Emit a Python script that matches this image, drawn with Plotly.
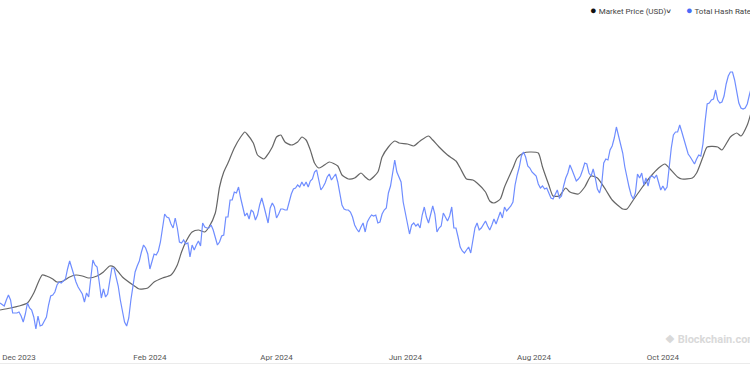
import pandas as pd
import plotly.graph_objects as go

START = pd.Timestamp("2023-11-22")

# Market Price (USD), 30-day average: day offset from START and value
price_days = [0, 5, 9, 13, 16, 18, 20, 22, 25, 27, 30, 33, 36, 39, 42, 46, 49, 52, 54, 58,
              63, 66, 70, 73, 77, 81, 84, 86, 88, 91, 94, 97, 99, 102, 104, 106, 108, 111, 114, 116,
              117, 120, 122, 125, 126, 129, 131, 133, 135, 138, 141, 143, 145, 147, 149, 151, 153, 156, 160, 162,
              165, 168, 171, 173, 175, 179, 181, 184, 187, 189, 193, 196, 199, 203, 205, 208, 212, 216, 218, 221,
              224, 226, 230, 232, 234, 237, 239, 243, 245, 248, 251, 255, 257, 260, 262, 265, 268, 270, 274, 277,
              280, 283, 287, 290, 295, 297, 300, 304, 308, 312, 315, 317, 321, 323, 328, 330, 333, 335, 340, 342,
              346, 349, 351, 354, 356]
price_usd = [38000, 38400, 38800, 39400, 41400, 43400, 45000, 44800, 44200, 43600, 43800, 44600, 45000, 44800, 44400, 44800, 45600, 46800, 46600, 44600,
             43000, 42200, 42400, 43600, 44400, 45000, 47000, 49600, 51600, 53600, 54000, 53600, 54600, 57400, 62600, 65600, 67400, 70400, 72600, 73600,
             73200, 71400, 69000, 68200, 68600, 70600, 72600, 73000, 71600, 71000, 71600, 72600, 72000, 70000, 67400, 66400, 66800, 67600, 66800, 65000,
             64200, 64400, 65400, 64600, 64000, 65600, 68600, 70600, 71800, 71400, 71200, 70800, 71800, 72800, 72000, 70600, 69000, 67800, 66400, 64200,
             64000, 63400, 61600, 59800, 59400, 60200, 62600, 66400, 68400, 69400, 69600, 69400, 66600, 63000, 60800, 60800, 62400, 61600, 61200, 62600,
             64800, 64400, 62000, 60000, 58200, 58200, 60000, 62400, 64600, 66400, 67200, 66400, 64600, 64200, 64400, 65400, 68600, 70600, 70600, 70000,
             72600, 73400, 72800, 75000, 77800]

# Total Hash Rate (EH/s), one value per day from START
hash_rate = [497, 495, 494, 500, 505, 500, 487, 487, 487, 488, 484, 478, 486, 497, 492, 490, 483, 471, 484, 474,
             475, 479, 483, 495, 504, 505, 508, 515, 518, 517, 519, 521, 531, 539, 532, 524, 518, 513, 510, 506,
             498, 507, 503, 523, 540, 535, 533, 518, 502, 511, 503, 506, 520, 532, 532, 523, 514, 500, 488, 478,
             474, 482, 500, 512, 528, 534, 539, 548, 555, 552, 546, 531, 538, 546, 545, 549, 558, 575, 586, 583,
             582, 576, 572, 582, 572, 558, 557, 560, 556, 557, 543, 555, 550, 555, 559, 554, 577, 573, 572, 572,
             575, 570, 562, 555, 558, 564, 565, 583, 583, 600, 600, 608, 607, 613, 602, 593, 584, 587, 581, 590,
             588, 580, 585, 595, 602, 594, 585, 577, 592, 597, 593, 582, 586, 591, 591, 590, 590, 598, 606, 611,
             612, 615, 613, 618, 614, 618, 613, 619, 621, 628, 630, 620, 610, 613, 617, 623, 626, 620, 623, 626,
             618, 607, 595, 591, 590, 590, 588, 583, 575, 571, 568, 573, 577, 568, 578, 582, 585, 584, 585, 577,
             578, 586, 590, 592, 607, 614, 628, 640, 628, 622, 618, 598, 587, 578, 566, 575, 577, 574, 576, 572,
             585, 593, 583, 577, 585, 594, 586, 568, 572, 574, 587, 583, 579, 584, 593, 572, 572, 563, 553, 549,
             547, 550, 553, 547, 560, 572, 577, 570, 572, 575, 579, 574, 570, 575, 581, 576, 583, 588, 582, 593,
             589, 591, 594, 598, 615, 625, 633, 644, 648, 643, 634, 632, 628, 626, 624, 616, 612, 614, 611, 612,
             607, 602, 601, 605, 610, 602, 604, 614, 622, 627, 635, 630, 624, 619, 621, 624, 630, 637, 636, 627,
             624, 631, 622, 611, 607, 615, 637, 641, 640, 650, 654, 662, 673, 665, 657, 647, 633, 621, 613, 605,
             601, 607, 626, 622, 627, 615, 622, 614, 623, 624, 622, 625, 618, 610, 614, 610, 613, 633, 652, 665,
             668, 668, 675, 668, 660, 653, 646, 643, 639, 636, 641, 645, 644, 656, 678, 696, 697, 700, 701, 710,
             700, 697, 698, 704, 716, 724, 728, 728, 720, 706, 697, 692, 691, 692, 696, 705, 713]

tick_dates = ["2023-12-01", "2024-02-01", "2024-04-01", "2024-06-01", "2024-08-01", "2024-10-01"]
tick_labels = ["Dec 2023", "Feb 2024", "Apr 2024", "Jun 2024", "Aug 2024", "Oct 2024"]

price_x = START + pd.to_timedelta(price_days, unit="D")
hash_x = START + pd.to_timedelta(list(range(len(hash_rate))), unit="D")

fig = go.Figure()
fig.add_trace(go.Scatter(x=price_x, y=price_usd, mode="lines", name="Market Price (USD)",
                         line=dict(color="#666666", width=1.2, shape="spline", smoothing=0.6),
                         yaxis="y", showlegend=False))
fig.add_trace(go.Scatter(x=hash_x, y=hash_rate, mode="lines", name="Total Hash Rate",
                         line=dict(color="#6f8dff", width=1.2),
                         yaxis="y2", showlegend=False))

fig.update_layout(
    width=750, height=374,
    margin=dict(l=0, r=0, t=0, b=11, autoexpand=False),
    paper_bgcolor="white", plot_bgcolor="white",
    font=dict(family="Roboto, Arial, sans-serif", size=8, color="#555555"),
    xaxis=dict(type="date", range=["2023-11-22", "2024-11-11 07:00"],
               tickvals=tick_dates, ticktext=tick_labels,
               ticklabelposition="inside", ticks="",
               showgrid=False, zeroline=False,
               showline=True, linecolor="#ebebeb", linewidth=1,
               tickfont=dict(family="Roboto, Arial, sans-serif", size=8, color="#555555")),
    yaxis=dict(range=[27400, 100000], visible=False),
    yaxis2=dict(range=[437, 800], visible=False, overlaying="y", side="right"),
    annotations=[
        dict(xref="paper", yref="paper", x=588 / 750, y=(363 - 11) / 363, xanchor="left", yanchor="middle",
             showarrow=False,
             text="<span style='color:#111111;font-size:11px'>●</span> Market Price (USD)<b>˅</b>",
             font=dict(family="Roboto, Arial, sans-serif", size=8, color="#444444")),
        dict(xref="paper", yref="paper", x=684 / 750, y=(363 - 11) / 363, xanchor="left", yanchor="middle",
             showarrow=False,
             text="<span style='color:#4a6cf7;font-size:11px'>●</span> Total Hash Rate",
             font=dict(family="Roboto, Arial, sans-serif", size=8, color="#444444")),
        dict(xref="paper", yref="paper", x=663 / 750, y=(363 - 339) / 363, xanchor="left", yanchor="middle",
             showarrow=False,
             text="<b>❖ Blockchain.com</b>",
             font=dict(family="Roboto, Arial, sans-serif", size=11, color="#d9d9d9")),
    ],
)

fig.write_html("out.html", config={"displayModeBar": False},
               post_script="document.body.style.margin='0';document.body.style.overflow='hidden';")
